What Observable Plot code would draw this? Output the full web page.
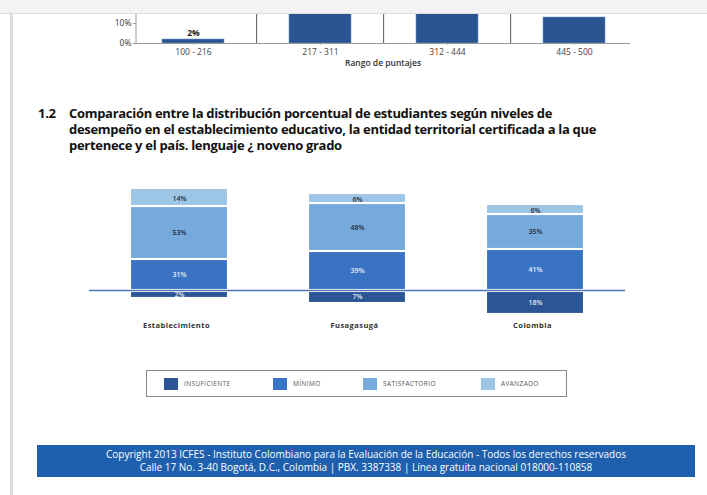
<!DOCTYPE html>
<html><head><meta charset="utf-8">
<script src="https://cdn.jsdelivr.net/npm/d3@7"></script>
<script src="https://cdn.jsdelivr.net/npm/@observablehq/plot@0.6"></script>
<style>
html,body{margin:0;padding:0;background:#fff;}
body{width:707px;height:495px;position:relative;overflow:hidden;font-family:"Open Sans",sans-serif;}
.abs{position:absolute;}
#strip{left:0;top:0;width:707px;height:13px;background:#f3f3f3;border-bottom:1px solid #dcdcdc;z-index:5}
#lborder{left:10px;top:13px;width:3px;height:482px;background:#dcdcdc;}
#top{left:0;top:14px;width:707px;height:60px;overflow:hidden}
#rango{left:283px;width:200px;top:57px;text-align:center;font-size:8.5px;color:#333;font-weight:600}
#num{left:38px;top:105px;font-weight:bold;font-size:13px;line-height:16px;color:#111;letter-spacing:-0.3px}
.tl{position:absolute;left:69px;width:600px;height:16px;font-weight:bold;font-size:13px;line-height:16px;color:#111;letter-spacing:-0.3px;white-space:nowrap}
#main{left:0;top:175px;width:707px;height:165px}
#legend{left:146px;top:370px;width:419px;height:25px;border:1px solid #8a8a8a;}
.sw{position:absolute;top:7px;width:14px;height:12px}
.lt{position:absolute;top:6px;font-size:6.5px;letter-spacing:0.4px;color:#555;line-height:13px}
#footer{left:37px;top:445px;width:658px;height:32px;background:#1e5fae;color:#fff;text-align:center;font-size:10px;line-height:12.5px;padding-top:3px;box-sizing:border-box;font-family:"Open Sans",sans-serif}
</style></head>
<body>
<div id="strip" class="abs"></div>
<div id="lborder" class="abs"></div>
<div id="top" class="abs"></div>
<div id="rango" class="abs">Rango de puntajes</div>
<div id="num" class="abs">1.2</div>
<div class="tl" style="top:105px">Comparación entre la distribución porcentual de estudiantes según niveles de</div>
<div class="tl" style="top:121px">desempeño en el establecimiento educativo, la entidad territorial certificada a la que</div>
<div class="tl" style="top:137px">pertenece y el país. lenguaje ¿ noveno grado</div>
<div id="main" class="abs"></div>
<div id="legend" class="abs"></div>
<div id="footer" class="abs">Copyright 2013 ICFES - Instituto Colombiano para la Evaluación de la Educación - Todos los derechos reservados<br>Calle 17 No. 3-40 Bogotá, D.C., Colombia | PBX. 3387338 | Línea gratuita nacional 018000-110858</div>
<script>
// ---- data: top (partial) chart
const rangos = ["100 - 216", "217 - 311", "312 - 444", "445 - 500"];
const porcentajesRango = [2, 44, 41, 13];
const ticksTop = [0, 10];

// ---- data: main chart
const entidades = ["Establecimiento", "Fusagasugá", "Colombia"];
const niveles = ["INSUFICIENTE", "MÍNIMO", "SATISFACTORIO", "AVANZADO"];
const colores = ["#2b5594", "#3a73c3", "#77aadc", "#9dc5e6"];
const insuficiente = [2, 7, 18];
const minimo = [31, 39, 41];
const satisfactorio = [53, 48, 35];
const avanzado = [14, 6, 6];

// ---- top chart
const topData = rangos.map((r, i) => ({rango: r, pct: porcentajesRango[i]}));
const topML = 136, topMR = 77, topRange = [128, 639];
const step = (topRange[1] - topRange[0]) / rangos.length;
const topChart = Plot.plot({
  width: 707, height: 60, marginLeft: topML, marginRight: topMR, marginTop: 0, marginBottom: 31,
  style: {fontFamily: "Open Sans", fontSize: "8.5px", color: "#444", background: "transparent"},
  x: {domain: rangos, range: topRange, paddingInner: 0.515, paddingOuter: 0.2575, label: null},
  y: {domain: [0, 10], range: [29, 9], label: null},
  marks: [
    Plot.ruleX(rangos.slice(1), {x: d => d, dx: -step / 2, stroke: "#555"}),
    Plot.barY(topData, {x: "rango", y: "pct", fill: "#2b5592", stroke: "#6f93c6", strokeWidth: 0.6, clip: true}),
    Plot.text(topData, {filter: d => d.pct <= ticksTop[1], x: "rango", y: "pct", text: d => d.pct + "%", dy: -6, fontWeight: "bold", fontSize: 8.5, fill: "#222"}),
    Plot.ruleY([0], {stroke: "#999"}),
    Plot.axisY({ticks: ticksTop, tickFormat: d => d + "%", tickSize: 3, tickPadding: 2, stroke: "#999", fill: "#333", fontSize: 8.5, label: null}),
    Plot.axisX({tickSize: 2, tickPadding: 3, stroke: "#aaa", fill: "#444", fontSize: 8.5, label: null})
  ]
});
d3.select(topChart).append("line").attr("x1", topML).attr("x2", topML).attr("y1", 0).attr("y2", 29).attr("stroke", "#999");
document.getElementById("top").appendChild(topChart);

// ---- main chart: stack values (insuficiente below zero)
const rows = [];
entidades.forEach((e, i) => {
  rows.push({entidad: e, nivel: niveles[0], v: insuficiente[i], y1: 0, y2: -insuficiente[i]});
  let acc = 0;
  [[niveles[1], minimo[i]], [niveles[2], satisfactorio[i]], [niveles[3], avanzado[i]]].forEach(([n, v]) => {
    rows.push({entidad: e, nivel: n, v, y1: acc, y2: acc + v});
    acc += v;
  });
});
const byNivel = n => rows.filter(r => r.nivel === n);
const insets = {
  "INSUFICIENTE": {insetTop: 2, insetBottom: -5, dy: 3, fill: "#e4eaf5"},
  "MÍNIMO": {insetTop: 1, insetBottom: 1, dy: 0, fill: "#e8eef8"},
  "SATISFACTORIO": {insetTop: 1, insetBottom: 1, dy: 0, fill: "#1e2a3a"},
  "AVANZADO": {insetTop: -3, insetBottom: 1, dy: -1, fill: "#1e2a3a"}
};
const marks = [Plot.ruleY([0], {stroke: "#4f77b8", strokeWidth: 1.5})];
niveles.forEach((n, k) => {
  const o = insets[n];
  marks.push(Plot.rectY(byNivel(n), {x: "entidad", y1: "y1", y2: "y2", fill: colores[k], insetTop: o.insetTop, insetBottom: o.insetBottom, stroke: "#ffffff", strokeOpacity: 0.25, strokeWidth: 0.5}));
});
niveles.forEach((n, k) => {
  const o = insets[n];
  marks.push(Plot.text(byNivel(n), {x: "entidad", y: d => (d.y1 + d.y2) / 2, text: d => d.v + "%", dy: o.dy, fill: o.fill, fontSize: 7, fontWeight: 600}));
});
marks.push(Plot.axisX({tickSize: 0, tickPadding: 2, dx: -3, fontWeight: "bold", fontSize: 7.5, fill: "#333", label: null}));
const mainChart = Plot.plot({
  width: 707, height: 165, marginLeft: 89, marginRight: 82, marginTop: 0, marginBottom: 20,
  style: {fontFamily: "Open Sans", fontSize: "7.5px", color: "#333", background: "transparent"},
  x: {domain: entidades, paddingInner: 0.462, paddingOuter: 0.2325, label: null},
  y: {domain: [0, 100], range: [115, 15], axis: null},
  marks
});
d3.select(mainChart).selectAll('[aria-label="x-axis tick label"] text').style("letter-spacing", "0.45px");
document.getElementById("main").appendChild(mainChart);

// ---- legend
const legend = document.getElementById("legend");
const swLeft = [17, 126, 216, 334];
niveles.forEach((n, k) => {
  const s = document.createElement("div");
  s.className = "sw"; s.style.left = swLeft[k] + "px"; s.style.background = colores[k];
  legend.appendChild(s);
  const t = document.createElement("div");
  t.className = "lt"; t.style.left = (swLeft[k] + 20) + "px"; t.textContent = n;
  legend.appendChild(t);
});
</script>
</body></html>
